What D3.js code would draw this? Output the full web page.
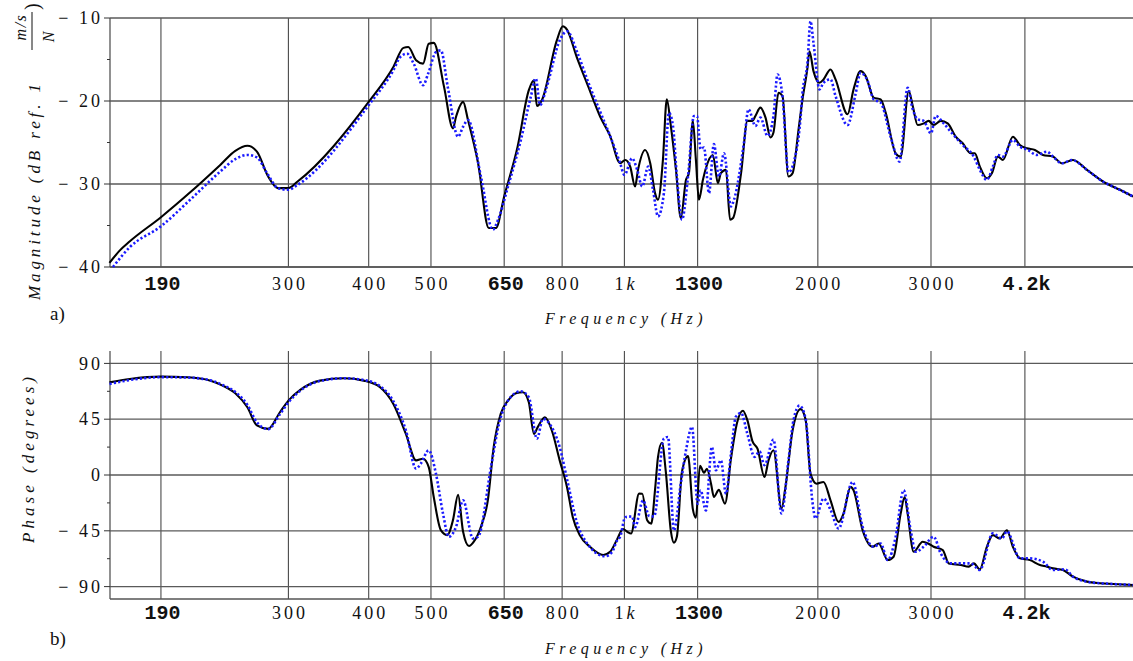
<!DOCTYPE html>
<html>
<head>
<meta charset="utf-8">
<script src="https://cdn.jsdelivr.net/npm/d3@7"></script>
<style>
  body { margin: 0; background: #fff; }
  svg { display: block; }
  text { font-family: 'Liberation Serif', 'DejaVu Serif', serif; fill: #111; }
</style>
</head>
<body>
<div id="chart"></div>
<script>
// frequency (Hz) / value pairs
const magBlack = [
  [158, -39.5], [164, -38.0], [170, -36.9], [190, -34.0], [211, -31.0], [235, -27.7], [248, -26.0],
  [259, -25.4], [268, -26.1], [279, -29.1], [289, -30.5], [300, -30.5], [310, -29.7], [400, -20.1],
  [437, -15.9], [453, -13.6], [461, -13.5], [474, -15.1], [486, -15.5], [496, -13.1], [505, -13.0],
  [524, -18.3], [541, -23.3], [547, -21.9], [561, -20.1], [571, -22.3], [592, -27.5], [615, -35.3],
  [631, -35.3], [650, -31.5], [682, -25.5], [710, -18.7], [723, -17.5], [731, -20.6], [744, -19.9],
  [785, -12.7], [802, -11.0], [814, -11.4], [843, -14.7], [878, -18.2], [917, -21.9], [950, -24.2],
  [985, -27.5], [1003, -27.1], [1021, -27.9], [1039, -30.3], [1050, -28.3], [1077, -25.9], [1097, -27.5],
  [1116, -31.1], [1128, -31.9], [1148, -27.1], [1164, -19.8], [1181, -23.0], [1203, -28.3], [1224, -34.1],
  [1247, -29.5], [1260, -28.7], [1278, -22.4], [1292, -27.1], [1306, -31.9], [1325, -29.5], [1339, -28.1],
  [1373, -26.5], [1398, -29.9], [1413, -28.7], [1439, -28.3], [1460, -34.3], [1476, -34.1], [1519, -28.7],
  [1554, -22.4], [1582, -22.4], [1599, -21.8], [1628, -20.8], [1658, -22.0], [1688, -24.4], [1706, -23.8],
  [1737, -19.0], [1762, -19.4], [1800, -29.1], [1827, -28.7], [1866, -23.5], [1893, -19.8], [1927, -16.0],
  [1941, -14.0], [1969, -16.4], [2012, -17.8], [2041, -17.4], [2093, -16.2], [2131, -17.4], [2225, -21.6],
  [2273, -18.6], [2331, -16.4], [2374, -17.0], [2443, -19.6], [2505, -19.8], [2550, -21.4], [2643, -26.3],
  [2691, -26.7], [2770, -18.8], [2810, -20.6], [2860, -22.9], [2922, -22.7], [2975, -22.4], [3029, -22.9],
  [3106, -22.4], [3185, -22.7], [3278, -24.3], [3361, -25.1], [3459, -26.3], [3510, -26.3], [3574, -27.9],
  [3665, -29.3], [3731, -28.7], [3812, -26.7], [3882, -27.1], [4023, -24.3], [4125, -25.3], [4230, -25.7],
  [4353, -25.9], [4480, -26.5], [4644, -26.7], [4796, -27.5], [4989, -27.1], [5246, -28.3], [5556, -29.7],
  [5905, -30.7], [6187, -31.5]
]

const magBlue = [
  [160, -40.0], [170, -37.6], [190, -35.1], [211, -31.9], [235, -28.5], [248, -27.0], [259, -26.5],
  [268, -26.8], [278, -28.7], [289, -30.5], [300, -30.7], [310, -30.1], [400, -20.5], [437, -16.3],
  [448, -14.7], [459, -14.3], [470, -15.5], [486, -18.1], [495, -16.7], [509, -14.1], [518, -13.9],
  [531, -18.3], [551, -24.3], [561, -23.1], [571, -22.3], [598, -29.1], [624, -35.5], [636, -34.3],
  [659, -30.3], [690, -24.7], [715, -19.5], [728, -17.3], [739, -20.5], [757, -18.3], [793, -12.7],
  [814, -11.6], [846, -14.3], [880, -17.9], [917, -21.3], [950, -24.2], [985, -27.5], [1000, -28.9],
  [1028, -26.9], [1047, -28.3], [1066, -30.3], [1089, -27.9], [1108, -30.7], [1128, -33.9], [1152, -31.1],
  [1173, -21.4], [1190, -23.0], [1207, -29.1], [1229, -34.3], [1256, -29.1], [1283, -21.8], [1297, -21.8],
  [1314, -25.8], [1330, -25.6], [1354, -31.1], [1378, -25.2], [1403, -29.1], [1429, -26.3], [1465, -32.7],
  [1481, -31.9], [1535, -25.0], [1560, -21.0], [1599, -23.0], [1628, -22.0], [1670, -24.2], [1706, -21.8],
  [1731, -16.8], [1762, -19.4], [1800, -28.6], [1833, -27.5], [1880, -22.0], [1893, -19.0], [1927, -15.4],
  [1948, -10.4], [1969, -13.0], [2012, -18.6], [2041, -17.8], [2093, -17.4], [2131, -19.4], [2225, -22.9],
  [2289, -19.2], [2331, -16.6], [2391, -17.6], [2443, -19.8], [2505, -20.2], [2596, -24.3], [2681, -27.3],
  [2759, -18.4], [2810, -21.0], [2860, -22.2], [2922, -22.4], [3000, -23.9], [3051, -21.8], [3140, -22.7],
  [3220, -23.7], [3361, -25.3], [3497, -26.7], [3574, -28.3], [3665, -29.5], [3744, -27.9], [3812, -26.5],
  [3882, -26.7], [4023, -24.7], [4125, -25.5], [4245, -25.9], [4385, -26.5], [4545, -26.1], [4644, -26.7],
  [4796, -27.5], [4971, -27.1], [5246, -28.3], [5556, -29.7], [5905, -30.7], [6187, -31.5]
]

const phaseBlack = [
  [158, 74.7], [170, 77.4], [190, 79.3], [209, 78.8], [227, 76.1], [237, 72.1], [248, 65.9], [259, 54.6],
  [268, 40.0], [279, 37.2], [291, 50.6], [300, 60.0], [313, 68.6], [336, 76.1], [366, 78.0], [393, 76.1],
  [417, 70.7], [437, 57.3], [457, 33.2], [474, 11.8], [486, 13.1], [496, 6.4], [505, -17.7], [518, -44.5],
  [530, -48.5], [541, -36.4], [551, -16.0], [561, -45.8], [573, -57.3], [583, -53.8], [598, -41.8],
  [613, -20.4], [626, 22.5], [642, 49.3], [659, 60.0], [678, 65.9], [695, 66.7], [710, 58.7], [723, 33.2],
  [733, 38.6], [752, 46.6], [771, 35.9], [793, 11.8], [814, -9.6], [831, -33.8], [852, -48.5], [884, -57.9],
  [927, -64.5], [950, -62.0], [974, -52.0], [995, -43.6], [1010, -45.8], [1024, -47.2], [1054, -15.0],
  [1066, -15.1], [1085, -36.5], [1101, -39.2], [1116, -12.0], [1128, 14.6], [1144, 26.0], [1160, 2.5],
  [1181, -45.0], [1194, -54.5], [1207, -49.5], [1229, 2.5], [1256, 15.2], [1278, -27.5], [1292, -34.5],
  [1311, 7.5], [1330, 1.8], [1344, 5.0], [1364, -7.0], [1378, -17.7], [1403, -12.0], [1434, -23.1],
  [1465, 13.2], [1497, 42.0], [1529, 51.8], [1554, 44.0], [1582, 27.3], [1611, 21.2], [1652, -1.6],
  [1676, 11.8], [1706, 20.0], [1756, -27.1], [1781, -9.7], [1827, 36.0], [1880, 53.1], [1914, 44.7],
  [1948, 1.1], [1991, -7.0], [2041, -5.6], [2093, -20.4], [2154, -37.8], [2193, -31.1], [2249, -9.6],
  [2273, -12.3], [2348, -44.5], [2434, -57.9], [2487, -55.2], [2569, -68.6], [2624, -65.9], [2691, -31.1],
  [2730, -17.7], [2759, -31.1], [2819, -61.9], [2912, -53.8], [2970, -55.2], [3029, -57.9], [3129, -60.5],
  [3197, -71.3], [3338, -72.6], [3434, -73.9], [3497, -71.3], [3574, -76.1], [3665, -57.9], [3744, -48.5],
  [3840, -51.2], [3938, -44.5], [4023, -57.9], [4125, -67.2], [4276, -68.6], [4432, -72.6], [4545, -73.9],
  [4644, -75.3], [4813, -76.6], [4989, -82.0], [5246, -86.0], [5497, -87.3], [5759, -87.9], [6187, -88.7]
]

const phaseBlue = [
  [158, 73.4], [170, 76.6], [190, 78.9], [209, 78.6], [227, 76.3], [237, 72.6], [248, 67.0], [259, 56.5],
  [268, 42.5], [279, 37.0], [291, 49.0], [300, 58.5], [313, 68.0], [336, 75.8], [366, 78.0], [393, 76.6],
  [417, 71.5], [437, 59.5], [457, 36.0], [474, 5.1], [482, 9.1], [496, 19.8], [509, 1.1], [522, -31.1],
  [533, -49.8], [547, -41.8], [561, -20.4], [581, -51.2], [592, -49.8], [620, 6.4], [638, 41.2], [659, 60.0],
  [690, 67.5], [710, 62.7], [731, 29.2], [747, 45.3], [765, 41.2], [793, 22.5], [817, -7.0], [843, -37.8],
  [875, -55.2], [933, -65.5], [957, -62.0], [974, -52.8], [985, -49.8], [1003, -34.0], [1028, -33.5],
  [1039, -42.0], [1069, -20.5], [1093, -33.0], [1112, -33.5], [1152, 29.4], [1169, 30.7], [1194, -44.7],
  [1224, -7.0], [1247, 19.9], [1274, 38.8], [1300, -23.2], [1314, -12.4], [1339, -28.6], [1368, 22.6],
  [1388, 3.8], [1413, 11.9], [1439, -15.1], [1465, 17.2], [1491, 46.9], [1519, 50.0], [1554, 33.0],
  [1594, 14.6], [1623, 19.0], [1652, 8.0], [1706, 28.5], [1756, -31.0], [1800, 11.9], [1833, 44.2],
  [1873, 56.0], [1914, 45.5], [1962, -22.0], [1983, -35.0], [2041, -19.0], [2093, -28.0], [2154, -43.1],
  [2265, -5.6], [2348, -41.8], [2443, -57.9], [2505, -55.2], [2569, -68.6], [2643, -50.0], [2720, -12.3],
  [2789, -44.5], [2840, -61.9], [2922, -57.9], [3029, -49.8], [3106, -63.2], [3220, -71.3], [3459, -71.3],
  [3574, -76.6], [3744, -47.1], [3868, -51.2], [3938, -45.5], [4125, -67.2], [4276, -67.2], [4480, -69.9],
  [4644, -76.6], [4848, -76.1], [4989, -82.0], [5246, -86.0], [5497, -87.3], [5759, -87.9], [6187, -88.7]
]

const freqTicks = [190, 300, 400, 500, 650, 800, 1000, 1300, 2000, 3000, 4200]
const freqLabels = ['190', '300', '400', '500', '650', '800', '1k', '1300', '2000', '3000', '4.2k']
const magTicks = [-40, -30, -20, -10]
const magMinorTicks = [-35, -25, -15]
const phaseTicks = [-90, -45, 0, 45, 90]
const phaseMinorTicks = [-67.5, -22.5, 22.5, 67.5]

let width = 1133
let height = 661

let svg = d3
  .select('#chart')
  .append('svg')
  .attr('width', width)
  .attr('height', height)

let xPositionScale = d3.scaleLog().domain([158.3, 6187]).range([110, width])

// the bold typewriter labels on the frequency axis
let boldLabels = new Set(['190', '650', '1300', '4.2k'])

let panels = [
  {
    y: d3.scaleLinear().domain([-40, -10]).range([267, 18]),
    ticks: magTicks,
    minor: magMinorTicks,
    black: magBlack,
    blue: magBlue,
    labelY: 290,
    titleY: 324,
    tag: 'a)',
    tagY: 320
  },
  {
    y: d3.scaleLinear().domain([-100, 100]).range([599, 351]),
    ticks: phaseTicks,
    minor: phaseMinorTicks,
    black: phaseBlack,
    blue: phaseBlue,
    labelY: 619,
    titleY: 654,
    tag: 'b)',
    tagY: 645
  }
]

function fmt(d) {
  return d < 0 ? '\u2212 ' + Math.abs(d) : String(d)
}

panels.forEach(function(p) {
  let yScale = p.y
  let [yBottom, yTop] = yScale.range()
  let g = svg.append('g')

  // vertical grid
  g.selectAll('.vgrid')
    .data(freqTicks)
    .enter()
    .append('line')
    .attr('x1', d => xPositionScale(d))
    .attr('x2', d => xPositionScale(d))
    .attr('y1', yTop)
    .attr('y2', yBottom)
    .attr('stroke', '#4a4a4a')
    .attr('stroke-width', 1.1)

  // horizontal grid
  g.selectAll('.hgrid')
    .data(p.ticks)
    .enter()
    .append('line')
    .attr('x1', 110)
    .attr('x2', width)
    .attr('y1', d => yScale(d))
    .attr('y2', d => yScale(d))
    .attr('stroke', '#5a5a5a')
    .attr('stroke-width', 1.3)

  // axis lines
  g.append('line')
    .attr('x1', 110).attr('x2', 110)
    .attr('y1', yTop).attr('y2', yBottom)
    .attr('stroke', '#555').attr('stroke-width', 1.3)
  g.append('line')
    .attr('x1', 110).attr('x2', width)
    .attr('y1', yBottom).attr('y2', yBottom)
    .attr('stroke', '#555').attr('stroke-width', 1.3)

  // y ticks
  g.selectAll('.ytick')
    .data(p.ticks)
    .enter()
    .append('line')
    .attr('x1', 104).attr('x2', 110)
    .attr('y1', d => yScale(d)).attr('y2', d => yScale(d))
    .attr('stroke', '#333')
  g.selectAll('.yminor')
    .data(p.minor)
    .enter()
    .append('line')
    .attr('x1', 107).attr('x2', 110)
    .attr('y1', d => yScale(d)).attr('y2', d => yScale(d))
    .attr('stroke', '#333')

  g.selectAll('.ylabel')
    .data(p.ticks)
    .enter()
    .append('text')
    .attr('x', 103)
    .attr('y', d => yScale(d))
    .attr('dy', '0.34em')
    .attr('text-anchor', 'end')
    .attr('font-size', 18)
    .attr('letter-spacing', 3)
    .text(fmt)

  // frequency labels
  g.selectAll('.xlabel')
    .data(freqTicks)
    .enter()
    .append('text')
    .attr('x', d => xPositionScale(d) + 1.5)
    .attr('y', p.labelY)
    .attr('text-anchor', 'middle')
    .each(function(d, i) {
      let t = d3.select(this)
      let label = freqLabels[i]
      if (boldLabels.has(label)) {
        t.style('font-family', "'Liberation Mono', 'DejaVu Sans Mono', monospace")
          .attr('font-weight', 'bold')
          .attr('font-size', 20)
          .text(label)
      } else if (label.endsWith('k')) {
        t.attr('font-size', 18).attr('letter-spacing', 3)
        t.append('tspan').text(label.slice(0, -1))
        t.append('tspan').attr('font-style', 'italic').text('k')
      } else {
        t.attr('font-size', 18).attr('letter-spacing', 3).text(label)
      }
    })

  g.append('text')
    .attr('x', 626)
    .attr('y', p.titleY)
    .attr('text-anchor', 'middle')
    .attr('font-size', 16)
    .attr('font-style', 'italic')
    .attr('letter-spacing', 4.4)
    .text('Frequency (Hz)')

  g.append('text')
    .attr('x', 50)
    .attr('y', p.tagY)
    .attr('font-size', 19)
    .text(p.tag)

  let line = d3
    .line()
    .x(d => xPositionScale(d[0]))
    .y(d => yScale(d[1]))
    .curve(d3.curveMonotoneX)

  g.append('path')
    .datum(p.black)
    .attr('d', line)
    .attr('fill', 'none')
    .attr('stroke', '#000')
    .attr('stroke-width', 2.1)
    .attr('stroke-linejoin', 'round')

  g.append('path')
    .datum(p.blue)
    .attr('d', line)
    .attr('fill', 'none')
    .attr('stroke', '#1a1aff')
    .attr('stroke-width', 2.6)
    .attr('stroke-dasharray', '2.2 2.2')
})

// rotated y titles
let magTitle = svg.append('g').attr('transform', 'translate(40, 300) rotate(-90)')
magTitle.append('text')
  .attr('x', 0)
  .attr('y', 0)
  .attr('font-size', 17)
  .attr('font-style', 'italic')
  .attr('textLength', 216)
  .attr('lengthAdjust', 'spacing')
  .text('Magnitude (dB ref. 1')
magTitle.append('text')
  .attr('x', 273)
  .attr('y', -14)
  .attr('text-anchor', 'middle')
  .attr('font-size', 16)
  .attr('font-style', 'italic')
  .attr('letter-spacing', 1.5)
  .text('m/s')
magTitle.append('line')
  .attr('x1', 250).attr('x2', 288)
  .attr('y1', -8).attr('y2', -8)
  .attr('stroke', '#111').attr('stroke-width', 1)
magTitle.append('text')
  .attr('x', 263)
  .attr('y', 14)
  .attr('text-anchor', 'middle')
  .attr('font-size', 16)
  .attr('font-style', 'italic')
  .text('N')
magTitle.append('text')
  .attr('x', 290)
  .attr('y', -1)
  .attr('font-size', 20)
  .text(')')

svg.append('g')
  .attr('transform', 'translate(34, 543) rotate(-90)')
  .append('text')
  .attr('font-size', 17)
  .attr('font-style', 'italic')
  .attr('textLength', 166)
  .attr('lengthAdjust', 'spacing')
  .text('Phase (degrees)')
</script>
</body>
</html>
